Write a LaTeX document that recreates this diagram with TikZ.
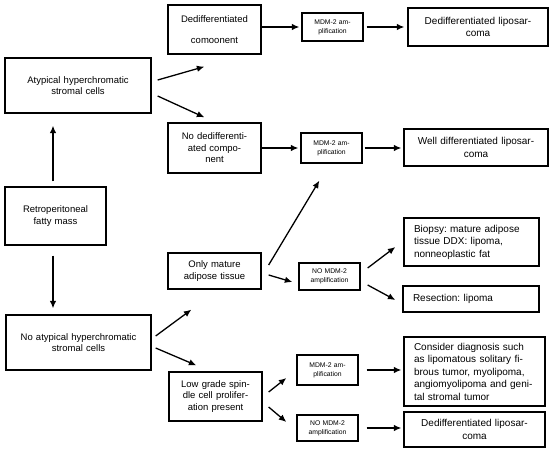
\documentclass[tikz,border=0pt]{standalone}
\usepackage{fontspec}
\setmainfont{Liberation Sans}
\frenchspacing
\usetikzlibrary{arrows.meta}

\tikzset{
  box/.style={draw, line width=1.3pt, inner xsep=0pt, inner ysep=0pt, align=center,
    font=\fontsize{9.5}{11.5}\selectfont},
  bigbox/.style={box, font=\fontsize{10}{12.5}\selectfont},
  smallbox/.style={box, font=\fontsize{6.8}{9}\selectfont},
  arr/.style={-{Latex[length=7.5pt,width=6.5pt]}, line width=1.3pt},
}

\begin{document}
\begin{tikzpicture}[x=1pt, y=-1pt]
  \useasboundingbox (0,0) rectangle (550,452);
  % left column
  \node[box, text width=101pt, minimum height=58pt] (retro) at (55.5,216) {Retroperitoneal\\fatty mass};
  \node[box, text width=146pt, minimum height=55pt] (atyp) at (78,85.5) {Atypical hyperchromatic\\stromal cells};
  \node[box, text width=145pt, minimum height=55pt] (noatyp) at (78.5,342.5) {No atypical hyperchromatic\\stromal cells};
  % second column
  \node[box, text width=93pt, minimum height=49pt] (dedcomp) at (214.5,29.5) {Dedifferentiated\\[9pt]comoonent};
  \node[box, text width=93pt, minimum height=50pt] (nodedcomp) at (214.5,148) {No dedifferenti-\\ated compo-\\nent};
  \node[box, text width=93pt, minimum height=36pt] (onlymature) at (214.5,271) {Only mature\\adipose tissue};
  \node[box, text width=93pt, minimum height=49pt] (lowgrade) at (215.5,396.5) {Low grade spin-\\dle cell prolifer-\\ation present};
  % MDM-2 tests
  \node[smallbox, text width=61pt, minimum height=28pt] (mdmA) at (332.5,27) {MDM-2 am-\\plification};
  \node[smallbox, text width=61pt, minimum height=30pt] (mdmB) at (331.5,148) {MDM-2 am-\\plification};
  \node[smallbox, text width=61pt, minimum height=27pt] (nomdmA) at (329.5,276.5) {NO MDM-2\\amplification};
  \node[smallbox, text width=61pt, minimum height=30pt] (mdmC) at (327.5,370) {MDM-2 am-\\plification};
  \node[smallbox, text width=61pt, minimum height=26pt] (nomdmB) at (327.5,428) {NO MDM-2\\amplification};
  % results
  \node[bigbox, text width=140pt, minimum height=38pt] (dedlipoA) at (478,27) {Dedifferentiated liposar-\\coma};
  \node[bigbox, text width=144pt, minimum height=37pt] (welldiff) at (476,147.5) {Well differentiated liposar-\\coma};
  \node[bigbox, align=left, inner xsep=10pt, text width=115pt, minimum height=48pt] (biopsy) at (471.5,242) {Biopsy: mature adipose\\tissue DDX: lipoma,\\nonneoplastic fat};
  \node[bigbox, align=left, inner xsep=10pt, text width=116pt, minimum height=26pt] (resection) at (471,299) {Resection: lipoma};
  \node[bigbox, align=left, inner xsep=10pt, text width=121pt, minimum height=69pt] (consider) at (474.5,371.5) {Consider diagnosis such\\as lipomatous solitary fi-\\brous tumor, myolipoma,\\angiomyolipoma and geni-\\tal stromal tumor};
  \node[bigbox, text width=141pt, minimum height=35pt] (dedlipoB) at (474.5,429.5) {Dedifferentiated liposar-\\coma};
  % vertical arrows
  \draw[arr, shorten <=5pt, shorten >=12pt] ([xshift=-2.5pt]retro.north) -- ([xshift=-2.5pt]retro.north |- atyp.south);
  \draw[arr, shorten <=10pt, shorten >=6pt] ([xshift=-2.5pt]retro.south) -- ([xshift=-2.5pt]retro.south |- noatyp.north);
  % slanted arrows
  \draw[arr] ([shift={(6,-5.5)}]atyp.east) -- ([shift={(37,12)}]dedcomp.south west);
  \draw[arr] ([shift={(6,10.5)}]atyp.east) -- ([shift={(37,-5)}]nodedcomp.north west);
  \draw[arr] ([shift={(4,-6.5)}]noatyp.east) -- ([shift={(24,20)}]onlymature.south west);
  \draw[arr] ([shift={(4,5.5)}]noatyp.east) -- ([shift={(28,-6)}]lowgrade.north west);
  \draw[arr] ([shift={(7,-6)}]onlymature.east) -- ([shift={(19,17)}]mdmB.south west);
  \draw[arr] ([shift={(7,4)}]onlymature.east) -- ([shift={(-6,5.5)}]nomdmA.west);
  \draw[arr] ([shift={(7,-8.5)}]nomdmA.east) -- ([shift={(-8,5)}]biopsy.west);
  \draw[arr] ([shift={(7,8.5)}]nomdmA.east) -- ([shift={(-7,1)}]resection.west);
  \draw[arr] ([shift={(6,-4.5)}]lowgrade.east) -- ([shift={(-10,8)}]mdmC.west);
  \draw[arr] ([shift={(6,10.5)}]lowgrade.east) -- ([shift={(-10,-6)}]nomdmB.west);
  % horizontal arrows
  \draw[arr, shorten >=2pt] (dedcomp.east |- mdmA.west) -- (mdmA.west);
  \draw[arr, shorten <=3pt, shorten >=3pt] (mdmA.east) -- (dedlipoA.west |- mdmA.east);
  \draw[arr, shorten >=2pt] (nodedcomp.east |- mdmB.west) -- (mdmB.west);
  \draw[arr, shorten <=2pt, shorten >=2pt] (mdmB.east) -- (welldiff.west |- mdmB.east);
  \draw[arr, shorten <=8pt, shorten >=2pt] (mdmC.east) -- (consider.west |- mdmC.east);
  \draw[arr, shorten <=8pt, shorten >=2pt] (nomdmB.east) -- (dedlipoB.west |- nomdmB.east);
\end{tikzpicture}
\end{document}
